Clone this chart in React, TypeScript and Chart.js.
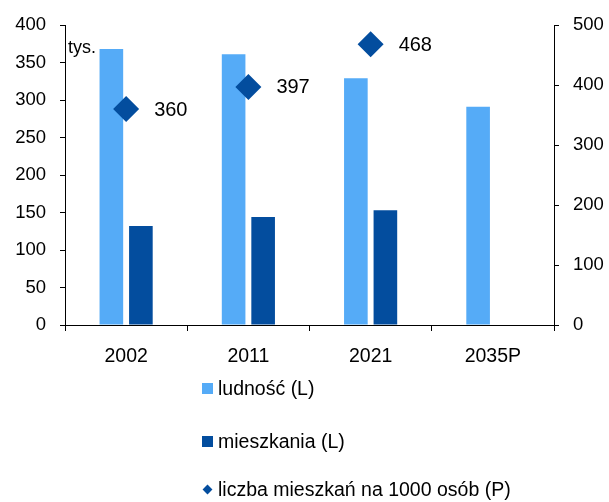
import React, { useEffect, useRef } from "react";
import { Chart, registerables } from "chart.js";

Chart.register(...registerables);

const categories = ["2002", "2011", "2021", "2035P"];
const ludnosc = [368, 361, 329, 291];
const mieszkania = [132, 144, 153, null];
const naTysiac = [360, 397, 468, null];
const leftTicks = [0, 50, 100, 150, 200, 250, 300, 350, 400];
const rightTicks = [0, 100, 200, 300, 400, 500];

const LIGHT = "#55ABF7";
const DARK = "#034D9E";
const FONT = "'Liberation Sans', sans-serif";

const extrasPlugin = {
  id: "extras",
  afterDatasetsDraw(chart: any) {
    const ctx = chart.ctx;
    ctx.save();
    ctx.fillStyle = "#000";
    ctx.textBaseline = "middle";
    ctx.textAlign = "left";
    ctx.font = `20px ${FONT}`;
    const meta = chart.getDatasetMeta(2);
    meta.data.forEach((pt: any, i: number) => {
      const v = naTysiac[i];
      if (v == null) return;
      ctx.fillText(String(v), pt.x + 28, pt.y + 1);
    });
    ctx.font = `18px ${FONT}`;
    ctx.fillText("tys.", chart.chartArea.left + 3, 48);
    ctx.restore();
  },
};

export default function App() {
  const ref = useRef<HTMLCanvasElement>(null);
  useEffect(() => {
    const chart = new Chart(ref.current!, {
      type: "bar",
      data: {
        labels: categories,
        datasets: [
          {
            type: "bar",
            label: "ludność (L)",
            data: ludnosc,
            backgroundColor: LIGHT,
            yAxisID: "y",
            categoryPercentage: 0.483,
            barPercentage: 0.8,
            order: 2,
          },
          {
            type: "bar",
            label: "mieszkania (L)",
            data: mieszkania,
            backgroundColor: DARK,
            yAxisID: "y",
            categoryPercentage: 0.483,
            barPercentage: 0.8,
            order: 2,
          },
          {
            type: "line",
            label: "liczba mieszkań na 1000 osób (P)",
            data: naTysiac,
            yAxisID: "y1",
            showLine: false,
            pointStyle: "rectRot",
            pointRadius: 13,
            pointHoverRadius: 13,
            backgroundColor: DARK,
            borderColor: DARK,
            borderWidth: 0,
            order: 1,
          } as any,
        ],
      },
      options: {
        animation: false,
        responsive: false,
        maintainAspectRatio: false,
        layout: { padding: { top: 25, left: 0, right: 0, bottom: 0 } },
        plugins: { legend: { display: false }, tooltip: { enabled: false } },
        scales: {
          x: {
            offset: true,
            grid: {
              offset: true,
              drawOnChartArea: false,
              color: "#000",
              tickLength: 6,
            },
            border: { color: "#000", width: 1 },
            ticks: { color: "#000", font: { family: FONT, size: 19.5 }, padding: 14 },
            afterFit(scale: any) {
              scale.height = 177;
            },
          },
          y: {
            position: "left",
            min: 0,
            max: 400,
            afterBuildTicks(scale: any) {
              scale.ticks = leftTicks.map((v) => ({ value: v }));
            },
            grid: { drawOnChartArea: false, color: "#000", tickLength: 5 },
            border: { color: "#000", width: 1 },
            ticks: { color: "#000", font: { family: FONT, size: 18.5 }, padding: 14 },
            afterFit(scale: any) {
              scale.width = 65;
            },
          },
          y1: {
            position: "right",
            min: 0,
            max: 500,
            afterBuildTicks(scale: any) {
              scale.ticks = rightTicks.map((v) => ({ value: v }));
            },
            grid: { drawOnChartArea: false, color: "#000", tickLength: 5 },
            border: { color: "#000", width: 1 },
            ticks: { color: "#000", font: { family: FONT, size: 18.5 }, padding: 14 },
            afterFit(scale: any) {
              scale.width = 55;
            },
          },
        },
      },
      plugins: [extrasPlugin],
    } as any);
    return () => chart.destroy();
  }, []);

  const legendItems = [
    { label: "ludność (L)", color: LIGHT, kind: "square", y: 388 },
    { label: "mieszkania (L)", color: DARK, kind: "square", y: 441 },
    { label: "liczba mieszkań na 1000 osób (P)", color: DARK, kind: "diamond", y: 489 },
  ];

  return (
    <div style={{ position: "absolute", left: 0, top: 0, width: 609, height: 502, background: "#fff" }}>
      <canvas ref={ref} width={609} height={502} style={{ display: "block" }} />
      {legendItems.map((it) => (
        <div
          key={it.label}
          style={{
            position: "absolute",
            left: 202,
            top: it.y - 14,
            height: 28,
            display: "flex",
            alignItems: "center",
            fontFamily: FONT,
            fontSize: 19.5,
            color: "#000",
            whiteSpace: "nowrap",
          }}
        >
          {it.kind === "square" ? (
            <span style={{ display: "inline-block", width: 11, height: 11, background: it.color, marginRight: 5 }} />
          ) : (
            <span style={{ display: "inline-block", width: 11, height: 11, marginRight: 5, position: "relative" }}>
              <span
                style={{
                  position: "absolute",
                  left: 2,
                  top: 2,
                  width: 7,
                  height: 7,
                  background: it.color,
                  transform: "rotate(45deg)",
                }}
              />
            </span>
          )}
          <span>{it.label}</span>
        </div>
      ))}
    </div>
  );
}
